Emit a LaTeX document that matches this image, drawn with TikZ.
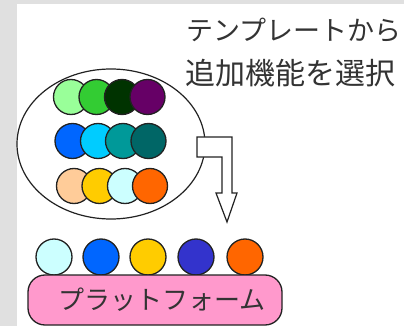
\documentclass[tikz,border=0pt]{standalone}
\usepackage{fontspec}
\newfontfamily\jpfont{Noto Sans CJK JP}
\usepackage{xcolor}
\usepackage{tikz}
\usetikzlibrary{shapes.geometric}

\definecolor{bggray}{HTML}{E0E0E0}
\definecolor{inkgray}{HTML}{333333}
\definecolor{edgegray}{HTML}{222222}
\definecolor{platpink}{HTML}{FF99CC}

\begin{document}
\begin{tikzpicture}[x=1pt,y=-1pt,
    ball/.style={circle, draw=edgegray, line width=1.3pt, minimum size=35pt, inner sep=0pt},
    caption/.style={anchor=west, inner sep=0pt, text=inkgray, font=\jpfont\fontsize{30}{30}\selectfont}]
    \fill[bggray] (0,0) rectangle (404,326);
    \fill[white] (17,4) rectangle (404,326);
    \useasboundingbox (0,0) rectangle (404,326);

    \node (line1) [caption, font=\jpfont\fontsize{27}{27}\selectfont] at (186,30) {テンプレートから};
    \node (line2) [caption] at (185,73) {追加機能を選択};

    \node (pool) [ellipse, draw=edgegray, line width=1.2pt, fill=white, minimum width=188pt, minimum height=150pt, inner sep=0pt] at (111,144) {};

    \node (a1) [ball, fill={rgb,255:red,153;green,255;blue,153}] at (71,97) {};
    \node (a2) [ball, fill={rgb,255:red,51;green,204;blue,51}] at (96.5,97) {};
    \node (a3) [ball, fill={rgb,255:red,0;green,51;blue,0}] at (122,97) {};
    \node (a4) [ball, fill={rgb,255:red,102;green,0;blue,102}] at (147.5,97) {};

    \node (b1) [ball, fill={rgb,255:red,0;green,102;blue,255}] at (72.5,141) {};
    \node (b2) [ball, fill={rgb,255:red,0;green,204;blue,255}] at (98,141) {};
    \node (b3) [ball, fill={rgb,255:red,0;green,153;blue,153}] at (123,141) {};
    \node (b4) [ball, fill={rgb,255:red,0;green,102;blue,102}] at (148.5,141) {};

    \node (c1) [ball, fill={rgb,255:red,255;green,204;blue,153}] at (74,186) {};
    \node (c2) [ball, fill={rgb,255:red,255;green,204;blue,0}] at (99.5,186) {};
    \node (c3) [ball, fill={rgb,255:red,204;green,255;blue,255}] at (125,186) {};
    \node (c4) [ball, fill={rgb,255:red,255;green,102;blue,0}] at (150,186) {};

    \draw[edgegray, line width=1.2pt, fill=white, line join=miter]
        (197,137) -- (232,137) -- (232,193) -- (237,193) -- (227,222)
        -- (216,193) -- (222,193) -- (222,157) -- (197,157) -- cycle;

    \node (p1) [ball, minimum size=36pt, fill={rgb,255:red,204;green,255;blue,255}] at (54,257) {};
    \node (p2) [ball, minimum size=36pt, fill={rgb,255:red,0;green,102;blue,255}] at (101,257) {};
    \node (p3) [ball, minimum size=36pt, fill={rgb,255:red,255;green,204;blue,0}] at (148,257) {};
    \node (p4) [ball, minimum size=36pt, fill={rgb,255:red,51;green,51;blue,204}] at (196,257) {};
    \node (p5) [ball, minimum size=36pt, fill={rgb,255:red,255;green,102;blue,0}] at (245,257) {};

    \node (platform) [draw=edgegray, line width=1.3pt, fill=platpink, rounded corners=17pt, minimum width=254pt, minimum height=50pt, inner sep=0pt, text=inkgray, font=\jpfont\fontsize{26}{26}\selectfont] at (155,300) {\hspace*{14pt}プラットフォーム};
\end{tikzpicture}
\end{document}
